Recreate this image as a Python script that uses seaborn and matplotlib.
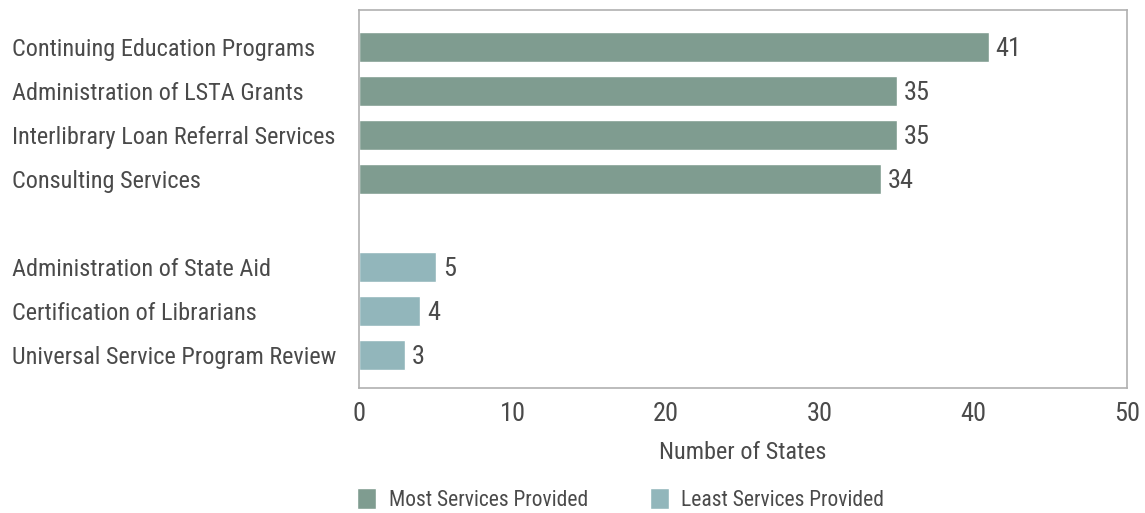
import seaborn as sns
import pandas as pd
from matplotlib import pyplot as plt

most_services = ['Continuing Education Programs', 'Administration of LSTA Grants',
                 'Interlibrary Loan Referral Services', 'Consulting Services']
most_counts = [41, 35, 35, 34]
least_services = ['Administration of State Aid', 'Certification of Librarians',
                  'Universal Service Program Review']
least_counts = [5, 4, 3]
groups = ['Most Services Provided', 'Least Services Provided']
colors = ['#7f9c90', '#92b6bb']

data = pd.DataFrame({
    'service': most_services + least_services,
    'states': most_counts + least_counts,
    'group': [groups[0]] * len(most_services) + [groups[1]] * len(least_services),
})
order = most_services + [''] + least_services

sns.set_theme(style='white')
plt.rcParams['font.family'] = ['Roboto Condensed', 'Roboto', 'DejaVu Sans']
text_color = '#4a4a4a'
fs = 17.5

fig = plt.figure(figsize=(11.45, 5.13), dpi=100)
ax = fig.add_axes([359 / 1145, 1 - 388 / 513, 768 / 1145, 378 / 513])

sns.barplot(data=data, y='service', x='states', hue='group', order=order,
            hue_order=groups, palette=colors, dodge=False, width=0.68,
            saturation=1, ax=ax)

for cont in ax.containers:
    labels_txt = ax.bar_label(cont, padding=5, fontsize=19, color=text_color)
    for t in labels_txt:
        t.set_verticalalignment('center_baseline')

ax.set_xlim(0, 50)
ax.set_ylim(7.75, -0.84)
ax.set_xticks([0, 10, 20, 30, 40, 50])
ax.set_ylabel('')
ax.set_xlabel('Number of States', fontsize=fs, color=text_color, labelpad=11)
ax.tick_params(axis='x', labelsize=19, colors=text_color, length=0, pad=10)
ax.tick_params(axis='y', labelsize=fs, colors=text_color, length=0, pad=250)
for lab in ax.get_yticklabels():
    lab.set_horizontalalignment('left')
for sp in ax.spines.values():
    sp.set_visible(True)
    sp.set_color('#b0b0b0')
    sp.set_linewidth(1.2)

handles, labels = ax.get_legend_handles_labels()
ax.legend_.remove()
fig.legend(handles, labels, loc='lower left', bbox_to_anchor=(338 / 1145, -0.033),
           ncol=2, frameon=False, fontsize=15.5, handlelength=0.85, handleheight=1.1,
           handletextpad=0.6, columnspacing=2.9, labelcolor=text_color)

fig.savefig('out.png', dpi=100)
